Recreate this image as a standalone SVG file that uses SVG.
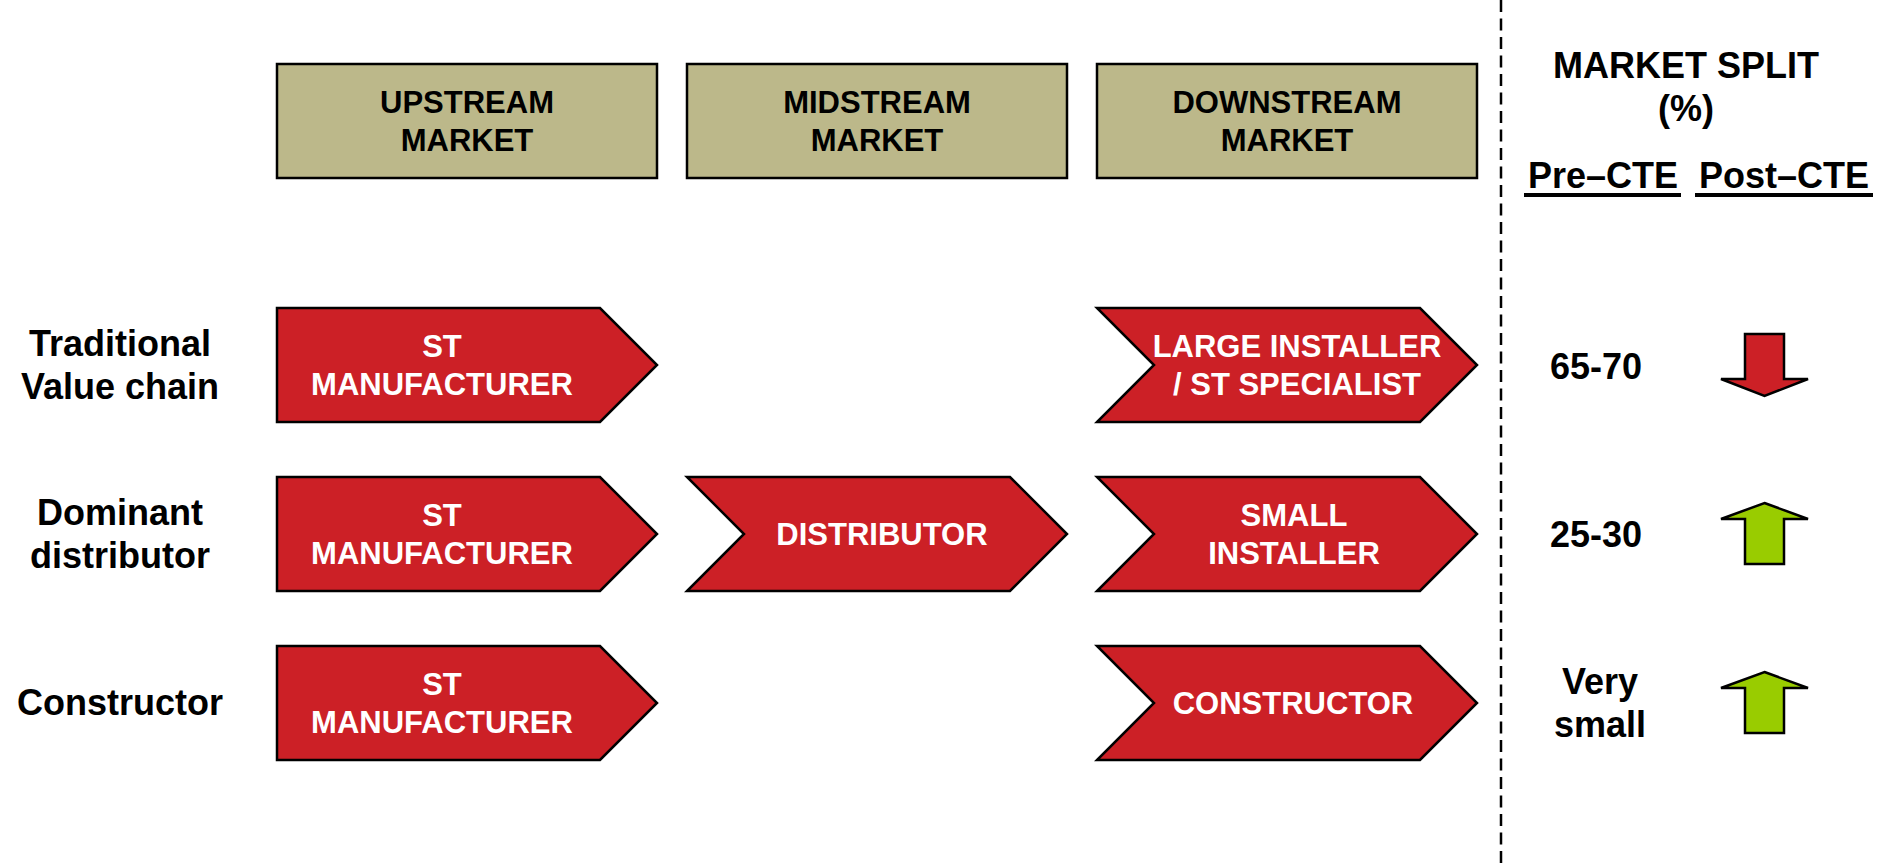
<svg xmlns="http://www.w3.org/2000/svg" width="1894" height="865" viewBox="0 0 1894 865">
  <style>
    text { font-family: "Liberation Sans", Arial, sans-serif; font-weight: bold; text-anchor: middle; }
    .hdr-box { fill: #BCB88A; stroke: #000; stroke-width: 2.5; }
    .hdr-txt { font-size: 31px; fill: #000; }
    .chev { fill: #CC2026; stroke: #000; stroke-width: 2.5; stroke-linejoin: miter; }
    .chev-txt { font-size: 31px; fill: #fff; }
    .row-lbl { font-size: 36px; fill: #000; }
    .col-txt { font-size: 36px; fill: #000; }
    .up { fill: #99CC00; stroke: #000; stroke-width: 2.5; }
    .down { fill: #CC2026; stroke: #000; stroke-width: 2.5; }
    .divider { stroke: #000; stroke-width: 2.5; stroke-dasharray: 12 6.5; fill: none; }
    .uline { fill: #000; }
  </style>

  <!-- Stage headers -->
  <g id="hdr-upstream">
    <rect class="hdr-box" x="277" y="64" width="380" height="114"/>
    <text class="hdr-txt" x="467" y="113">UPSTREAM</text>
    <text class="hdr-txt" x="467" y="151">MARKET</text>
  </g>
  <g id="hdr-midstream">
    <rect class="hdr-box" x="687" y="64" width="380" height="114"/>
    <text class="hdr-txt" x="877" y="113">MIDSTREAM</text>
    <text class="hdr-txt" x="877" y="151">MARKET</text>
  </g>
  <g id="hdr-downstream">
    <rect class="hdr-box" x="1097" y="64" width="380" height="114"/>
    <text class="hdr-txt" x="1287" y="113">DOWNSTREAM</text>
    <text class="hdr-txt" x="1287" y="151">MARKET</text>
  </g>

  <!-- Market split column -->
  <g id="market-split">
    <text class="col-txt" x="1686" y="78">MARKET SPLIT</text>
    <text class="col-txt" x="1686" y="121">(%)</text>
    <text class="col-txt" x="1603" y="188">Pre–CTE</text>
    <rect class="uline" x="1524" y="193" width="157" height="4"/>
    <text class="col-txt" x="1784" y="188">Post–CTE</text>
    <rect class="uline" x="1695" y="193" width="178" height="4"/>
  </g>

  <!-- Divider -->
  <g id="connectors">
    <line class="divider" x1="1501" y1="0" x2="1501" y2="865"/>
  </g>

  <!-- Row labels -->
  <g id="lbl-traditional">
    <text class="row-lbl" x="120" y="356">Traditional</text>
    <text class="row-lbl" x="120" y="399">Value chain</text>
  </g>
  <g id="lbl-dominant">
    <text class="row-lbl" x="120" y="525">Dominant</text>
    <text class="row-lbl" x="120" y="568">distributor</text>
  </g>
  <g id="lbl-constructor">
    <text class="row-lbl" x="120" y="715">Constructor</text>
  </g>

  <!-- Row 1: traditional value chain -->
  <g id="r1-manufacturer">
    <polygon class="chev" points="277,308 600,308 657,365 600,422 277,422"/>
    <text class="chev-txt" x="442" y="357">ST</text>
    <text class="chev-txt" x="442" y="395">MANUFACTURER</text>
  </g>
  <g id="r1-large-installer">
    <polygon class="chev" points="1097,308 1420,308 1477,365 1420,422 1097,422 1154,365"/>
    <text class="chev-txt" x="1297" y="357">LARGE INSTALLER</text>
    <text class="chev-txt" x="1297" y="395">/ ST SPECIALIST</text>
  </g>
  <g id="r1-split">
    <text class="col-txt" x="1596" y="379">65-70</text>
    <polygon class="down" points="1745,334 1784,334 1784,379 1808,379 1764.5,396 1721,379 1745,379"/>
  </g>

  <!-- Row 2: dominant distributor -->
  <g id="r2-manufacturer">
    <polygon class="chev" points="277,477 600,477 657,534 600,591 277,591"/>
    <text class="chev-txt" x="442" y="526">ST</text>
    <text class="chev-txt" x="442" y="564">MANUFACTURER</text>
  </g>
  <g id="r2-distributor">
    <polygon class="chev" points="687,477 1010,477 1067,534 1010,591 687,591 744,534"/>
    <text class="chev-txt" x="882" y="545">DISTRIBUTOR</text>
  </g>
  <g id="r2-small-installer">
    <polygon class="chev" points="1097,477 1420,477 1477,534 1420,591 1097,591 1154,534"/>
    <text class="chev-txt" x="1294" y="526">SMALL</text>
    <text class="chev-txt" x="1294" y="564">INSTALLER</text>
  </g>
  <g id="r2-split">
    <text class="col-txt" x="1596" y="547">25-30</text>
    <polygon class="up" points="1764.5,503 1808,519 1784,519 1784,564 1745,564 1745,519 1721,519"/>
  </g>

  <!-- Row 3: constructor -->
  <g id="r3-manufacturer">
    <polygon class="chev" points="277,646 600,646 657,703 600,760 277,760"/>
    <text class="chev-txt" x="442" y="695">ST</text>
    <text class="chev-txt" x="442" y="733">MANUFACTURER</text>
  </g>
  <g id="r3-constructor">
    <polygon class="chev" points="1097,646 1420,646 1477,703 1420,760 1097,760 1154,703"/>
    <text class="chev-txt" x="1293" y="714">CONSTRUCTOR</text>
  </g>
  <g id="r3-split">
    <text class="col-txt" x="1600" y="694">Very</text>
    <text class="col-txt" x="1600" y="737">small</text>
    <polygon class="up" points="1764.5,672 1808,688 1784,688 1784,733 1745,733 1745,688 1721,688"/>
  </g>
</svg>
